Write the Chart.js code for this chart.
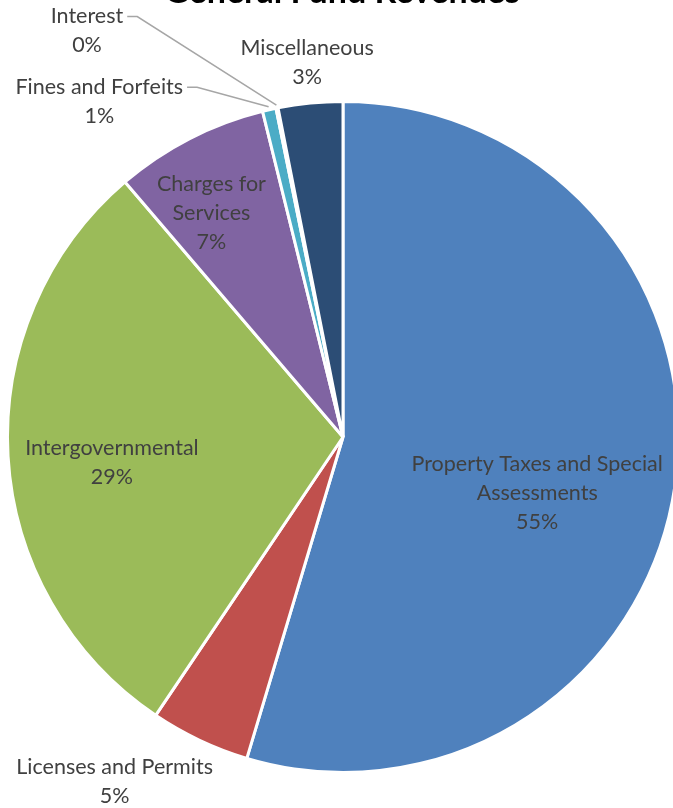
<!DOCTYPE html>
<html>
<head>
<meta charset="utf-8">
<script src="https://cdn.jsdelivr.net/npm/chart.js@4.4.1/dist/chart.umd.min.js"></script>
<style>
  html, body { margin: 0; padding: 0; background: #fff; overflow: hidden; }
  #wrap { position: absolute; left: 0; top: 0; width: 686px; height: 874px; }
</style>
</head>
<body>
<div id="wrap"><canvas id="pie"></canvas></div>
<script>
// General Fund Revenues — share of total, clockwise from 12 o'clock
const categories = [
  ['Property Taxes and Special', 'Assessments'],
  ['Licenses and Permits'],
  ['Intergovernmental'],
  ['Charges for', 'Services'],
  ['Fines and Forfeits'],
  ['Interest'],
  ['Miscellaneous'],
];
const shares = [54.6, 4.8, 29.3, 7.4, 0.65, 0.1, 3.1];
const shareLabels = ['55%', '5%', '29%', '7%', '1%', '0%', '3%'];
const colors = ['#4f81bd', '#c0504d', '#9bbb59', '#8064a2', '#4bacc6', '#f79646', '#2c4d75'];

// label placement: radius factor along slice mid-angle, plus nudge in px
const labelPlace = [
  { k: 0.60, dx: -5, dy: 27 },
  { k: 1.0, dx: -85, dy: 41 },
  { k: 0.69, dx: 0, dy: 12 },
  { k: 0.78, dx: -12, dy: 9 },
  { k: 1.0, dx: -170, dy: -8, leader: true },
  { k: 1.0, dx: -190, dy: -77, leader: true },
  { k: 1.1, dx: 0, dy: -7 },
];

const titlePlugin = {
  id: 'cutTitle',
  afterDraw(chart) {
    const c = chart.ctx;
    c.save();
    c.font = 'bold 34px Lato, "Open Sans", sans-serif';
    c.fillStyle = '#000';
    c.textAlign = 'center';
    c.textBaseline = 'alphabetic';
    c.fillText('General Fund Revenues', 342, 3);
    c.restore();
  }
};

const labelPlugin = {
  id: 'sliceLabels',
  afterDatasetsDraw(chart) {
    const c = chart.ctx;
    const arcs = chart.getDatasetMeta(0).data;
    c.save();
    c.font = '21.5px Lato, "Open Sans", sans-serif';
    c.fillStyle = '#404040';
    c.textAlign = 'center';
    c.textBaseline = 'middle';
    const lh = 29;
    arcs.forEach((arc, i) => {
      const p = labelPlace[i];
      const mid = (arc.startAngle + arc.endAngle) / 2;
      const r = arc.outerRadius * p.k;
      const x = arc.x + Math.cos(mid) * r + p.dx;
      const y = arc.y + Math.sin(mid) * r + p.dy;
      const lines = categories[i].concat(shareLabels[i]);
      const top = y - (lines.length - 1) * lh / 2;
      lines.forEach((t, j) => c.fillText(t, x, top + j * lh));
      if (p.leader) {
        const ex = arc.x + Math.cos(mid) * (arc.outerRadius + 3);
        const ey = arc.y + Math.sin(mid) * (arc.outerRadius + 3);
        const w = c.measureText(categories[i][0]).width;
        const sx = x + w / 2 + 4;
        const sy = top;
        c.strokeStyle = '#a6a6a6';
        c.lineWidth = 1.5;
        c.beginPath();
        c.moveTo(sx, sy);
        c.lineTo(sx + 10, sy);
        c.lineTo(ex, ey);
        c.stroke();
      }
    });
    c.restore();
  }
};

new Chart(document.getElementById('pie'), {
  type: 'pie',
  data: {
    labels: categories.map(l => l.join(' ')),
    datasets: [{
      data: shares,
      backgroundColor: colors,
      borderColor: '#ffffff',
      borderWidth: 3,
    }],
  },
  options: {
    responsive: true,
    maintainAspectRatio: false,
    animation: false,
    layout: { padding: { left: 6, right: 6, top: 100, bottom: 100 } },
    plugins: {
      legend: { display: false },
      tooltip: { enabled: false },
      title: { display: false },
    },
  },
  plugins: [labelPlugin, titlePlugin],
});
</script>
</body>
</html>
